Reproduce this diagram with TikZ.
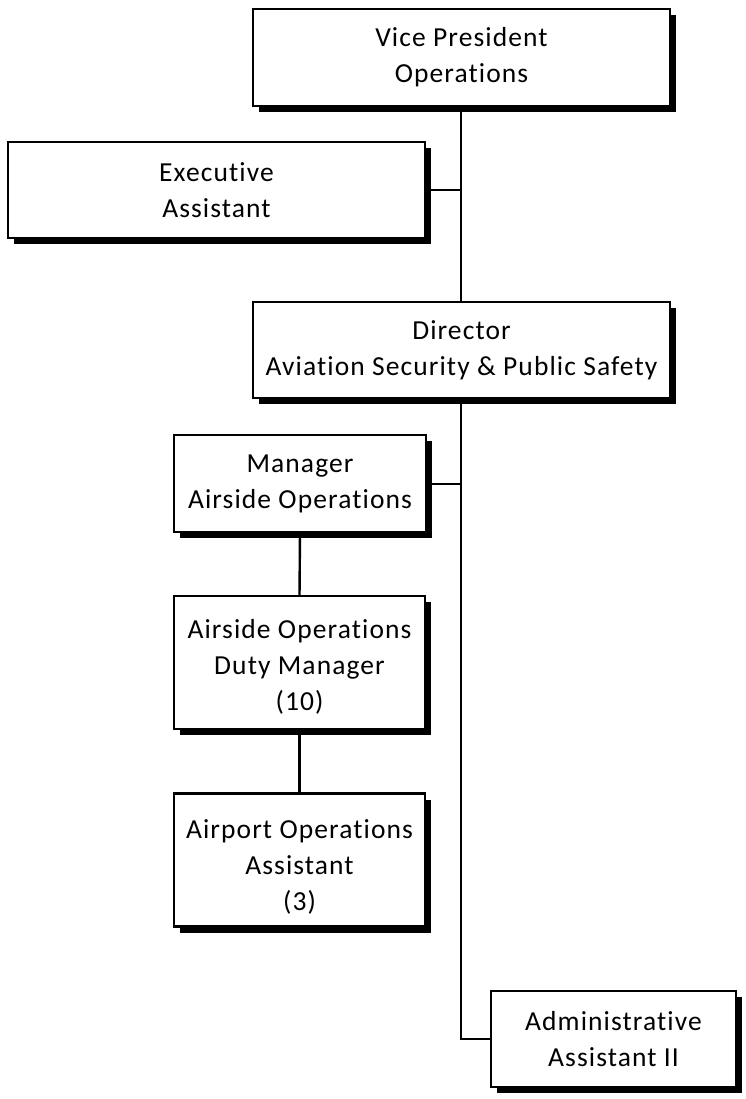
\documentclass[tikz,border=0pt]{standalone}
\usepackage{fontspec}
\setmainfont{Carlito}[LetterSpace=4,Ligatures=NoCommon]
\usetikzlibrary{shadows}
\begin{document}
\begin{tikzpicture}[x=1pt,y=-1pt,
  orgbox/.style={draw=black,line width=2.6pt,fill=white,align=center,inner sep=0pt,outer sep=0pt,
    font=\fontsize{27.5}{36}\selectfont,
    drop shadow={shadow xshift=6pt,shadow yshift=-6pt,opacity=1,fill=black}},
  link/.style={line width=2.4pt,black}]
\useasboundingbox (0,0) rectangle (746,1099);
\node[orgbox,minimum width=417pt,minimum height=97pt] (vp) at (461.5,57.5) {Vice President\\Operations};
\node[orgbox,minimum width=417pt,minimum height=96pt] (exec) at (216.5,190) {Executive\\Assistant};
\node[orgbox,minimum width=417pt,minimum height=96pt] (dir) at (461.5,350) {Director\\Aviation Security \& Public Safety};
\node[orgbox,minimum width=252pt,minimum height=97pt] (mgr) at (300,483.5) {Manager\\Airside Operations};
\node[orgbox,minimum width=251pt,minimum height=133pt,text height=102pt,text depth=7pt] (duty) at (299.5,662.5) {Airside Operations\\Duty Manager\\(10)};
\node[orgbox,minimum width=251pt,minimum height=133pt,text height=107pt,text depth=7pt] (apt) at (299.5,860) {Airport Operations\\Assistant\\(3)};
\node[orgbox,minimum width=245pt,minimum height=96pt] (adm) at (613.5,1039) {Administrative\\Assistant II};
\coordinate (j1) at (461,190);
\coordinate (j2) at (461,484);
\coordinate (j3) at (461,1039);
\draw[link] (vp.south -| j1) -- (dir.north -| j1);
\draw[link] (exec.east) -- (j1);
\draw[link] (dir.south -| j1) -- (j3) -- (adm.west);
\draw[link] (mgr.east |- j2) -- (j2);
\draw[link] (mgr.south) -- (duty.north);
\draw[link] (duty.south) -- (apt.north);
\end{tikzpicture}
\end{document}
